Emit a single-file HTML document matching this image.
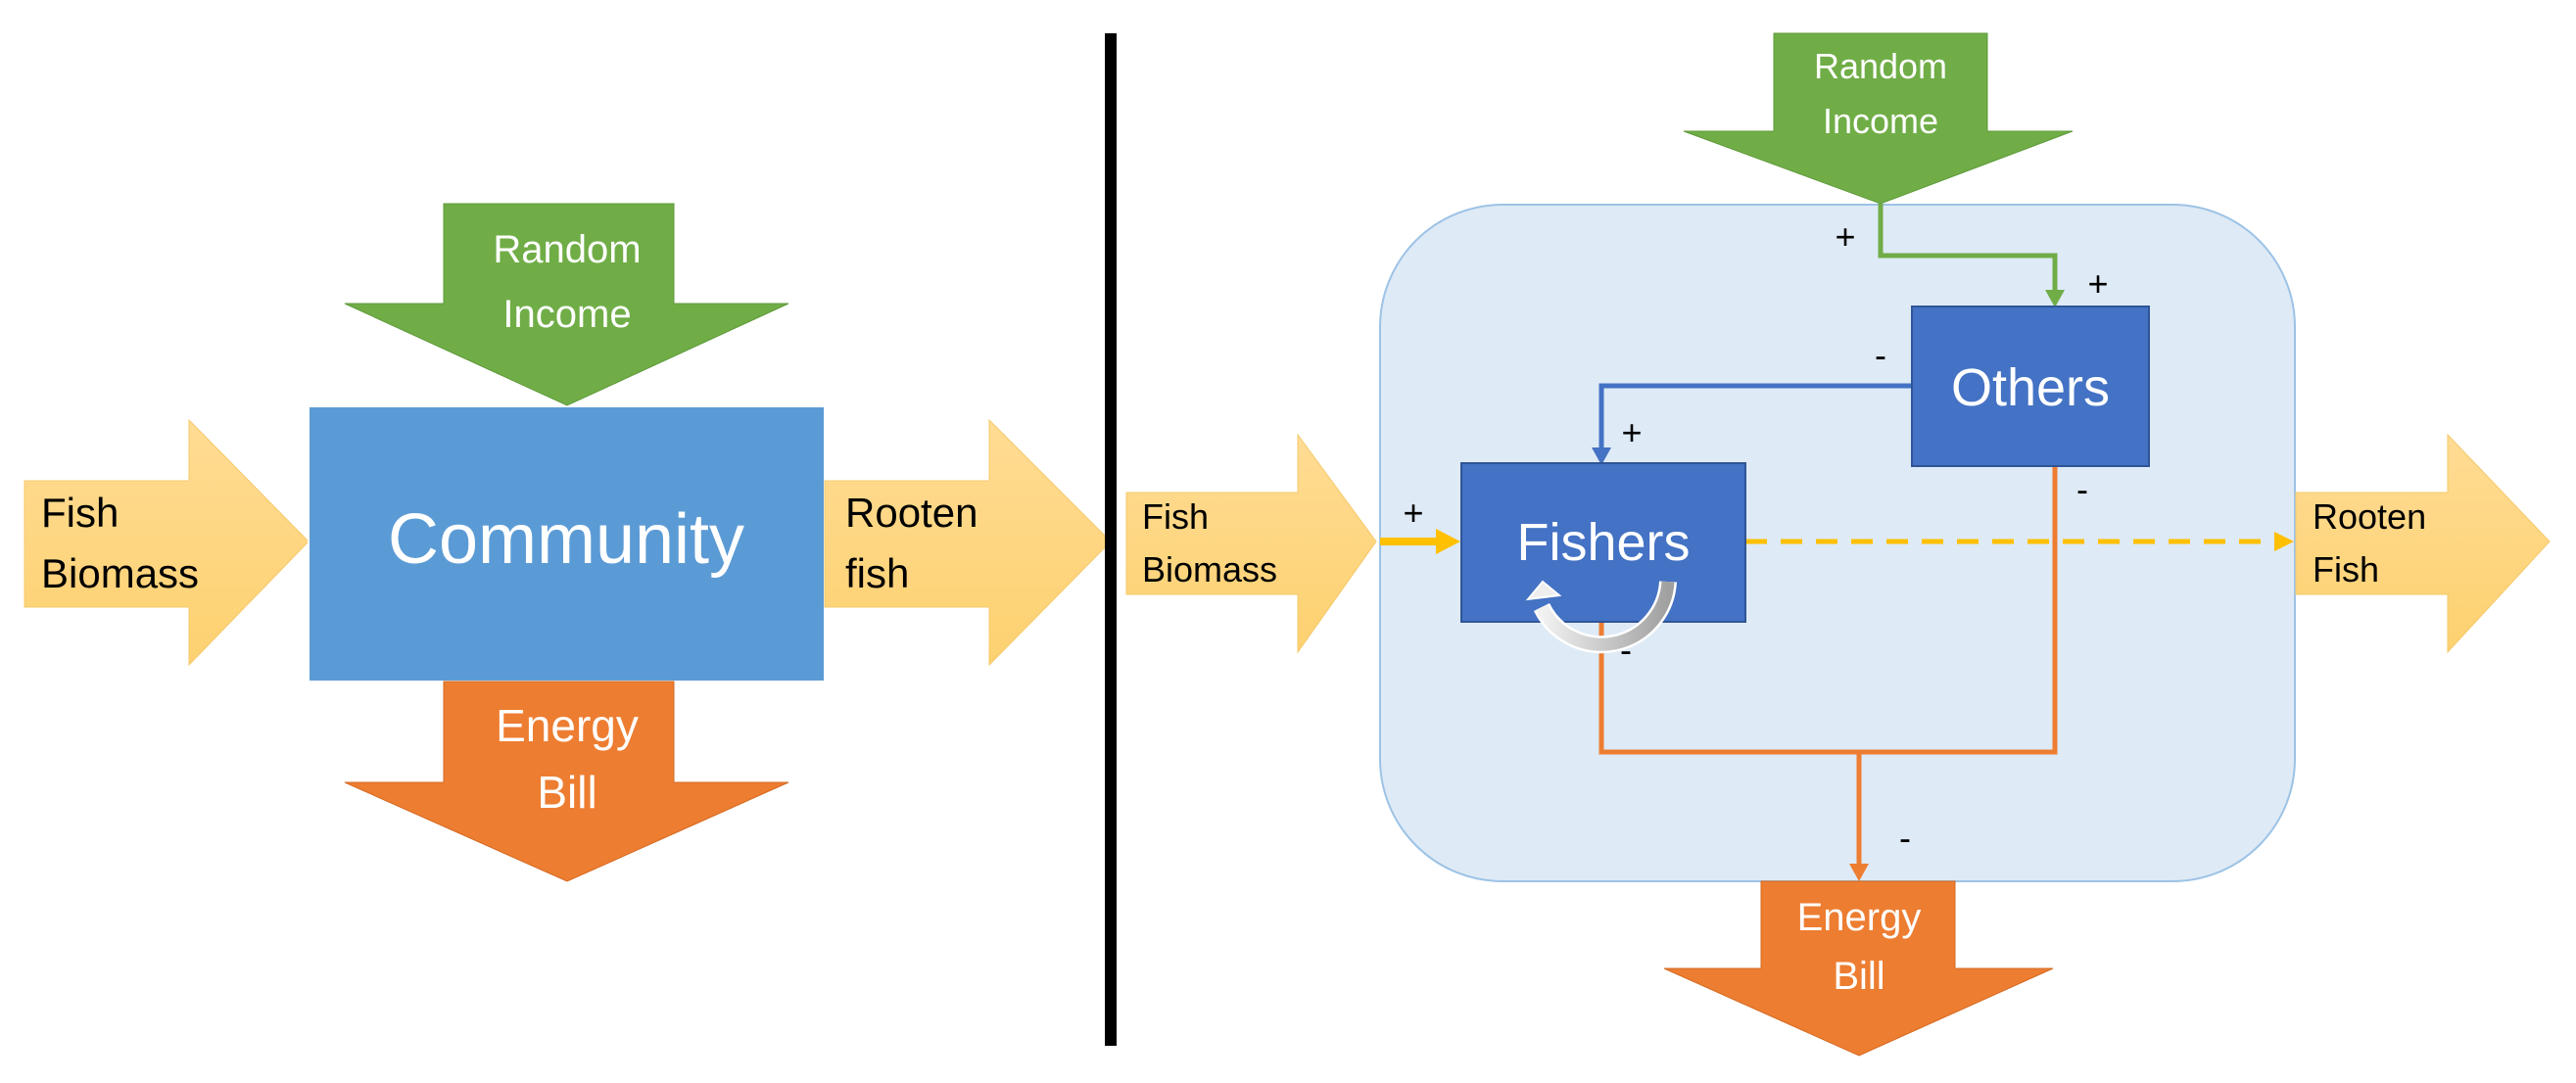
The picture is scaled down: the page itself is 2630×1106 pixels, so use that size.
<!DOCTYPE html>
<html><head><meta charset="utf-8"><style>html,body{margin:0;padding:0;background:#fff}svg{display:block}</style></head><body>
<svg width="2630" height="1106" viewBox="0 0 2630 1106" xmlns="http://www.w3.org/2000/svg" font-family="Liberation Sans, sans-serif">
<defs>
<linearGradient id="yg" x1="0" y1="0" x2="0" y2="1"><stop offset="0" stop-color="#ffdc94"/><stop offset="1" stop-color="#fdd170"/></linearGradient>
<linearGradient id="gr" x1="0" y1="0" x2="1" y2="0"><stop offset="0" stop-color="#f2f2f2"/><stop offset="1" stop-color="#a0a0a0"/></linearGradient>
</defs>
<!-- LEFT -->
<polygon points="25,491 193,491 193,429 315,553 193,679 193,620 25,620" fill="url(#yg)" stroke="#f5c96b" stroke-width="1"/>
<text x="42" y="538" font-size="42">Fish</text>
<text x="42" y="600" font-size="42">Biomass</text>
<rect x="315" y="415" width="527" height="281" fill="#5b9bd5" stroke="#fff" stroke-width="2"/>
<text x="578" y="575" font-size="72" fill="#fff" text-anchor="middle">Community</text>
<polygon points="453,208 688,208 688,310 805,310 579,414 352,310 453,310" fill="#70ad47" stroke="#5f9a3a"/>
<text x="579" y="268" font-size="40" fill="#fff" text-anchor="middle">Random</text>
<text x="579" y="334" font-size="40" fill="#fff" text-anchor="middle">Income</text>
<polygon points="453,696 688,696 688,799 805,799 579,900 352,799 453,799" fill="#ed7d31" stroke="#d46a22"/>
<text x="579" y="757" font-size="46" fill="#fff" text-anchor="middle">Energy</text>
<text x="579" y="825" font-size="46" fill="#fff" text-anchor="middle">Bill</text>
<polygon points="842,491 1010,491 1010,429 1134,553 1010,679 1010,620 842,620" fill="url(#yg)" stroke="#f5c96b"/>
<text x="863" y="538" font-size="42">Rooten</text>
<text x="863" y="600" font-size="42">fish</text>
<rect x="1128" y="34" width="12" height="1034" fill="#000"/>
<!-- RIGHT -->
<rect x="1409" y="209" width="934" height="691" rx="125" fill="#deeaf6" stroke="#9dc3e6" stroke-width="2"/>
<polygon points="1150,503 1325,503 1325,444 1405,553 1325,666 1325,607 1150,607" fill="url(#yg)" stroke="#f5c96b"/>
<text x="1166" y="540" font-size="36">Fish</text>
<text x="1166" y="594" font-size="36">Biomass</text>
<polygon points="2344,503 2499,503 2499,444 2603,553 2499,666 2499,607 2344,607" fill="url(#yg)" stroke="#f5c96b"/>
<text x="2361" y="540" font-size="36">Rooten</text>
<text x="2361" y="594" font-size="36">Fish</text>
<polygon points="1811,34 2029,34 2029,134 2116,134 1920,208 1719,134 1811,134" fill="#70ad47" stroke="#5f9a3a"/>
<text x="1920" y="80" font-size="36" fill="#fff" text-anchor="middle">Random</text>
<text x="1920" y="136" font-size="36" fill="#fff" text-anchor="middle">Income</text>
<polygon points="1798,900 1996,900 1996,989 2096,989 1898,1078 1699,989 1798,989" fill="#ed7d31" stroke="#d46a22"/>
<text x="1898" y="950" font-size="40" fill="#fff" text-anchor="middle">Energy</text>
<text x="1898" y="1010" font-size="40" fill="#fff" text-anchor="middle">Bill</text>
<!-- connectors -->
<polyline points="1920,208 1920,261 2098,261 2098,300" fill="none" stroke="#70ad47" stroke-width="5"/>
<polygon points="2088,296 2108,296 2098,314" fill="#70ad47"/>
<polyline points="1952,394 1635,394 1635,460" fill="none" stroke="#4472c4" stroke-width="5"/>
<polygon points="1625,457 1645,457 1635,475" fill="#4472c4"/>
<line x1="1409" y1="553" x2="1472" y2="553" stroke="#ffc000" stroke-width="8"/>
<polygon points="1466,540 1491,553 1466,566" fill="#ffc000"/>
<line x1="1782" y1="553" x2="2325" y2="553" stroke="#ffc000" stroke-width="5" stroke-dasharray="22,14"/>
<polygon points="2322,543 2342,553 2322,563" fill="#ffc000"/>
<polyline points="1635,635 1635,768 2098,768 2098,476" fill="none" stroke="#ed7d31" stroke-width="5"/>
<line x1="1898" y1="768" x2="1898" y2="885" stroke="#ed7d31" stroke-width="5"/>
<polygon points="1888,882 1908,882 1898,900" fill="#ed7d31"/>
<rect x="1952" y="313" width="242" height="163" fill="#4472c4" stroke="#2f5597" stroke-width="2"/>
<text x="2073" y="414" font-size="54" fill="#fff" text-anchor="middle">Others</text>
<rect x="1492" y="473" width="290" height="162" fill="#4472c4" stroke="#2f5597" stroke-width="2"/>
<text x="1637" y="572" font-size="54" fill="#fff" text-anchor="middle">Fishers</text>
<!-- loop arrow -->
<path d="M1703,594 A68,68 0 0 1 1574,620" fill="none" stroke="#fff" stroke-width="18"/>
<path d="M1703,594 A68,68 0 0 1 1574,620" fill="none" stroke="url(#gr)" stroke-width="13"/>
<polygon points="1560,612 1575,594 1592,608" fill="#eeeeee" stroke="#fff" stroke-width="2"/>
<g font-size="36" text-anchor="middle">
<text x="1884" y="254">+</text><text x="2142" y="302">+</text>
<text x="1920" y="375">-</text><text x="1666" y="454">+</text>
<text x="2126" y="512">-</text><text x="1443" y="536">+</text>
<text x="1660" y="676">-</text><text x="1945" y="868">-</text>
</g>
</svg>
</body></html>
